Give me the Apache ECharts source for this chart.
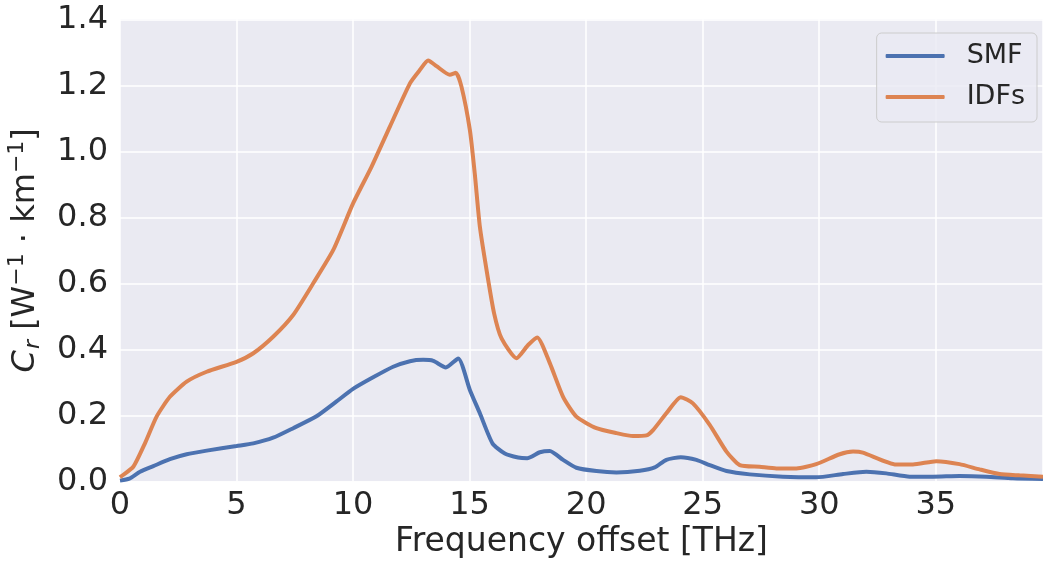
<!DOCTYPE html>
<html>
<head>
<meta charset="utf-8">
<script src="https://cdn.jsdelivr.net/npm/echarts@6/dist/echarts.min.js"></script>
<style>
html,body{margin:0;padding:0;background:#fff;}
#chart{width:1043px;height:568px;}
</style>
</head>
<body>
<div id="chart"></div>
<script>
// Frequency offset [THz] and C_r values
const smfFreq = [0, 0.4, 0.86, 1.43, 2.14, 2.86, 3.72, 5.0, 5.72, 6.57, 7.43, 8.43, 9.29, 10.0, 10.86, 11.72, 12.44, 13.01, 13.44, 13.98, 14.51, 15.01, 15.44, 15.98, 16.51, 17.08, 17.47, 18.01, 18.44, 19.01, 19.58, 20.44, 21.3, 22.3, 22.94, 23.44, 24.06, 24.73, 25.3, 26.02, 27.02, 28.44, 29.87, 31.02, 32.02, 32.88, 33.88, 34.88, 36.02, 37.17, 38.31, 39.6];
const smfVals = [0.002, 0.008, 0.029, 0.046, 0.067, 0.082, 0.093, 0.107, 0.115, 0.132, 0.161, 0.197, 0.242, 0.280, 0.315, 0.347, 0.364, 0.368, 0.365, 0.345, 0.372, 0.277, 0.206, 0.115, 0.084, 0.072, 0.070, 0.088, 0.092, 0.065, 0.041, 0.031, 0.027, 0.032, 0.042, 0.065, 0.073, 0.065, 0.049, 0.031, 0.021, 0.014, 0.012, 0.022, 0.029, 0.024, 0.014, 0.014, 0.016, 0.014, 0.009, 0.007];
const idfFreq = [0, 0.07, 0.57, 1.07, 1.57, 2.14, 2.86, 3.72, 5.0, 5.72, 6.57, 7.43, 8.29, 9.15, 10.0, 10.79, 11.58, 12.44, 12.86, 13.22, 13.58, 14.15, 14.41, 14.65, 15.01, 15.22, 15.44, 15.75, 16.05, 16.37, 17.01, 17.51, 17.9, 18.44, 19.01, 19.58, 20.44, 21.3, 22.01, 22.59, 22.87, 23.44, 24.06, 24.58, 25.3, 26.02, 26.59, 27.44, 28.16, 29.02, 29.87, 30.88, 31.45, 31.87, 33.3, 34.02, 35.02, 36.02, 36.88, 37.74, 38.59, 39.6];
const idfVals = [0.012, 0.016, 0.044, 0.115, 0.196, 0.256, 0.302, 0.332, 0.362, 0.388, 0.438, 0.504, 0.600, 0.701, 0.842, 0.953, 1.075, 1.206, 1.246, 1.275, 1.258, 1.232, 1.238, 1.196, 1.065, 0.933, 0.771, 0.630, 0.509, 0.433, 0.373, 0.413, 0.436, 0.358, 0.256, 0.196, 0.161, 0.146, 0.137, 0.139, 0.155, 0.206, 0.255, 0.236, 0.171, 0.090, 0.049, 0.044, 0.039, 0.039, 0.052, 0.082, 0.090, 0.087, 0.051, 0.051, 0.061, 0.052, 0.036, 0.022, 0.018, 0.014];
const xTicks = [0, 5, 10, 15, 20, 25, 30, 35];
const yTicks = [0.0, 0.2, 0.4, 0.6, 0.8, 1.0, 1.2, 1.4];
const seriesNames = ['SMF', 'IDFs'];

const FONT = 'DejaVu Sans';
const TXT = '#262626';
const pairs = (xs, ys) => xs.map((x, i) => [x, ys[i]]);

const chart = echarts.init(document.getElementById('chart'), null, {renderer: 'canvas'});
chart.setOption({
  animation: false,
  backgroundColor: '#ffffff',
  color: ['#4c72b0', '#dd8452'],
  grid: {left: 120, right: 0, top: 19.3, bottom: 86.7, show: true, backgroundColor: '#eaeaf2', borderWidth: 0,
         containLabel: false, outerBoundsMode: 'none'},
  legend: {
    orient: 'vertical', right: 6, top: 33,
    data: seriesNames,
    icon: 'roundRect', itemWidth: 59, itemHeight: 4, itemGap: 11,
    backgroundColor: 'rgba(234,234,242,0.8)', borderColor: '#cccccc', borderWidth: 1, borderRadius: 5,
    padding: [8, 12, 10, 9],
    textStyle: {fontFamily: FONT, fontSize: 27, color: TXT, lineHeight: 30, padding: [0, 0, 0, 17]}
  },
  xAxis: {
    type: 'value', min: 0, max: 39.6, interval: 5,
    name: 'Frequency offset [THz]', nameLocation: 'middle', nameGap: 44,
    nameTextStyle: {fontFamily: FONT, fontSize: 33, color: TXT},
    axisLine: {show: false}, axisTick: {show: false},
    axisLabel: {fontFamily: FONT, fontSize: 32, color: TXT, margin: 8, showMaxLabel: false,
      formatter: v => (xTicks.indexOf(v) >= 0 ? String(v) : '')},
    splitLine: {show: true, lineStyle: {color: '#ffffff', width: 1.5}}
  },
  yAxis: {
    type: 'value', min: 0, max: 1.4, interval: 0.2,
    name: '{i|C}{sub|r} [W{sup|−1} · km{sup|−1}]',
    nameLocation: 'middle', nameGap: 72, nameRotate: 90,
    nameTextStyle: {
      fontFamily: FONT, fontSize: 32, color: TXT,
      rich: {
        i: {fontFamily: FONT, fontSize: 32, fontStyle: 'italic', color: TXT, lineHeight: 42, verticalAlign: 'middle'},
        sub: {fontFamily: FONT, fontSize: 22, fontStyle: 'italic', color: TXT, lineHeight: 42, verticalAlign: 'bottom', padding: [0, 0, 2, 1]},
        sup: {fontFamily: FONT, fontSize: 22, color: TXT, lineHeight: 42, verticalAlign: 'top', padding: [2, 0, 0, 0]}
      }
    },
    axisLine: {show: false}, axisTick: {show: false},
    axisLabel: {fontFamily: FONT, fontSize: 32, color: TXT, margin: 12,
      formatter: v => yTicks.some(t => Math.abs(t - v) < 1e-9) ? v.toFixed(1) : ''},
    splitLine: {show: true, lineStyle: {color: '#ffffff', width: 1.5}}
  },
  series: [
    {name: seriesNames[0], type: 'line', data: pairs(smfFreq, smfVals), showSymbol: false, smooth: 0.2,
     lineStyle: {width: 4, color: '#4c72b0'}, itemStyle: {color: '#4c72b0'}},
    {name: seriesNames[1], type: 'line', data: pairs(idfFreq, idfVals), showSymbol: false, smooth: 0.2,
     lineStyle: {width: 4, color: '#dd8452'}, itemStyle: {color: '#dd8452'}}
  ]
});
</script>
</body>
</html>
